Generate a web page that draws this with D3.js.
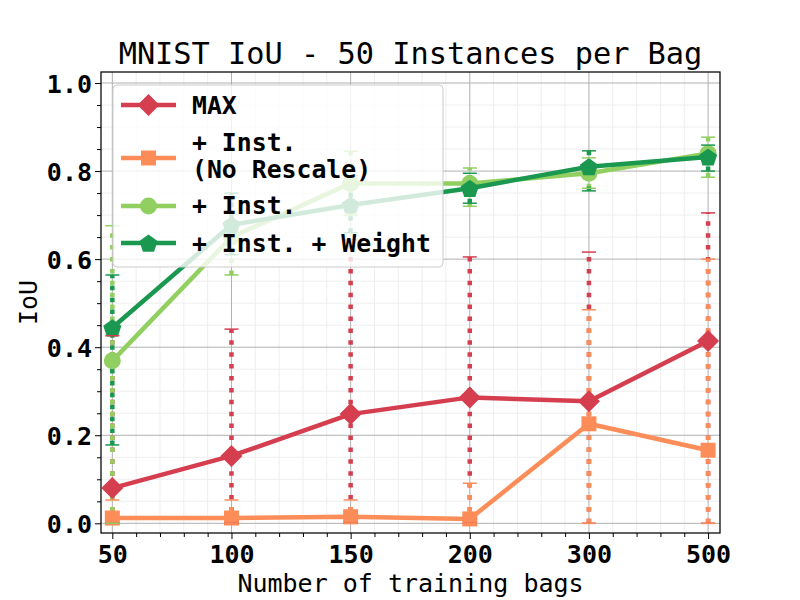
<!DOCTYPE html>
<html>
<head>
<meta charset="utf-8">
<script src="https://cdn.jsdelivr.net/npm/d3@7"></script>
<style>
  body { margin: 0; background: #fff; }
  text { font-family: 'DejaVu Sans Mono', monospace; }
</style>
</head>
<body>
<div id="chart"></div>
<script>
// training bag counts (evenly spaced categories)
let bags = ['50', '100', '150', '200', '300', '500']

// MAX
let maxMean = [0.080, 0.153, 0.248, 0.286, 0.277, 0.414]
let maxLow = [0, 0, 0, 0, 0, 0]
let maxHigh = [0.426, 0.441, 0.644, 0.605, 0.616, 0.705]

// + Inst. (No Rescale)
let noRescaleMean = [0.012, 0.012, 0.015, 0.010, 0.226, 0.166]
let noRescaleLow = [0, 0, 0, 0, 0, 0]
let noRescaleHigh = [0.053, 0.053, 0.053, 0.091, 0.485, 0.600]

// + Inst.
let instMean = [0.369, 0.650, 0.772, 0.772, 0.795, 0.840]
let instLow = [0, 0.564, 0.700, 0.720, 0.761, 0.786]
let instHigh = [0.676, 0.740, 0.845, 0.807, 0.830, 0.877]

// + Inst. + Weight
let weightMean = [0.444, 0.678, 0.723, 0.761, 0.810, 0.832]
let weightLow = [0.178, 0.610, 0.660, 0.727, 0.755, 0.800]
let weightHigh = [0.564, 0.750, 0.790, 0.795, 0.846, 0.859]

let yTicks = [0, 0.2, 0.4, 0.6, 0.8, 1.0]

let series = [
  { label: ['MAX'], color: '#d53e4f', marker: 'diamond', mean: maxMean, low: maxLow, high: maxHigh },
  { label: ['+ Inst.', '(No Rescale)'], color: '#fc8d59', marker: 'square', mean: noRescaleMean, low: noRescaleLow, high: noRescaleHigh },
  { label: ['+ Inst.'], color: '#91cf60', marker: 'circle', mean: instMean, low: instLow, high: instHigh },
  { label: ['+ Inst. + Weight'], color: '#1a9850', marker: 'pentagon', mean: weightMean, low: weightLow, high: weightHigh }
]

let margin = { top: 72, left: 101, right: 80, bottom: 67 }
let width = 800 - margin.left - margin.right
let height = 600 - margin.top - margin.bottom

let svg = d3
  .select('#chart')
  .append('svg')
  .attr('width', 800)
  .attr('height', 600)

let g = svg.append('g')
  .attr('transform', 'translate(' + margin.left + ',' + margin.top + ')')

let x = d3.scaleLinear().domain([-0.095, 5.1]).range([0, width])
let y = d3.scaleLinear().domain([-0.022, 1.025]).range([height, 0])

let xMinor = d3.range(0, 25.5).map(d => d * 0.2).filter(d => Math.abs(d - Math.round(d)) > 1e-6)
let yMinor = d3.range(0, 21).map(d => d * 0.05).filter(d => Math.abs(d / 0.2 - Math.round(d / 0.2)) > 1e-6)

// grid lines, minor first
g.append('g').selectAll('line').data(xMinor).enter().append('line')
  .attr('x1', d => x(d)).attr('x2', d => x(d)).attr('y1', 0).attr('y2', height)
  .attr('stroke', '#eeeeee').attr('stroke-width', 1)
g.append('g').selectAll('line').data(yMinor).enter().append('line')
  .attr('y1', d => y(d)).attr('y2', d => y(d)).attr('x1', 0).attr('x2', width)
  .attr('stroke', '#eeeeee').attr('stroke-width', 1)
g.append('g').selectAll('line').data(d3.range(bags.length)).enter().append('line')
  .attr('x1', d => x(d)).attr('x2', d => x(d)).attr('y1', 0).attr('y2', height)
  .attr('stroke', '#b0b0b0').attr('stroke-width', 1)
g.append('g').selectAll('line').data(yTicks).enter().append('line')
  .attr('y1', d => y(d)).attr('y2', d => y(d)).attr('x1', 0).attr('x2', width)
  .attr('stroke', '#b0b0b0').attr('stroke-width', 1)

function markerPath(type, s) {
  if (type === 'diamond') {
    return 'M0,' + (-s) + 'L' + s + ',0L0,' + s + 'L' + (-s) + ',0Z'
  } else if (type === 'square') {
    return 'M' + (-s) + ',' + (-s) + 'H' + s + 'V' + s + 'H' + (-s) + 'Z'
  } else if (type === 'circle') {
    return 'M' + s + ',0A' + s + ',' + s + ' 0 1,1 ' + (-s) + ',0A' + s + ',' + s + ' 0 1,1 ' + s + ',0Z'
  } else {
    let pts = d3.range(5).map(k => {
      let a = (-90 + k * 72) * Math.PI / 180
      return [s * Math.cos(a), s * Math.sin(a) + s * 0.1]
    })
    return 'M' + pts.map(p => p.join(',')).join('L') + 'Z'
  }
}
let markerSize = { diamond: 11, square: 7.5, circle: 8.5, pentagon: 9.5 }

let line = d3.line().x((d, i) => x(i)).y(d => y(d))

// dotted error bars
series.forEach(s => {
  g.append('g').selectAll('line').data(s.mean).enter().append('line')
    .attr('x1', (d, i) => x(i)).attr('x2', (d, i) => x(i))
    .attr('y1', (d, i) => y(s.low[i])).attr('y2', (d, i) => y(s.high[i]))
    .attr('stroke', s.color)
    .attr('stroke-width', 4.5)
    .attr('stroke-dasharray', '4.5,7.4')
})

// lines and markers
series.forEach(s => {
  g.append('path')
    .datum(s.mean)
    .attr('d', line)
    .attr('fill', 'none')
    .attr('stroke', s.color)
    .attr('stroke-width', 4.5)
    .attr('stroke-linejoin', 'round')
  g.append('g').selectAll('path').data(s.mean).enter().append('path')
    .attr('d', markerPath(s.marker, markerSize[s.marker]))
    .attr('transform', (d, i) => 'translate(' + x(i) + ',' + y(d) + ')')
    .attr('fill', s.color)
})

// caps
series.forEach(s => {
  let caps = []
  s.mean.forEach((d, i) => {
    caps.push([i, s.low[i]])
    caps.push([i, s.high[i]])
  })
  g.append('g').selectAll('line').data(caps).enter().append('line')
    .attr('x1', d => x(d[0]) - 7).attr('x2', d => x(d[0]) + 7)
    .attr('y1', d => y(d[1])).attr('y2', d => y(d[1]))
    .attr('stroke', s.color)
    .attr('stroke-width', 1.5)
})

// axes
let xAxis = g.append('g')
  .attr('transform', 'translate(0,' + height + ')')
  .call(d3.axisBottom(x).tickValues(d3.range(bags.length)).tickFormat(i => bags[i]).tickSize(6).tickPadding(7))
g.append('g')
  .attr('transform', 'translate(0,' + height + ')')
  .call(d3.axisBottom(x).tickValues(xMinor).tickFormat('').tickSize(4))
let yAxis = g.append('g')
  .call(d3.axisLeft(y).tickValues(yTicks).tickFormat(d3.format('.1f')).tickSize(6).tickPadding(3))
g.append('g')
  .call(d3.axisLeft(y).tickValues(yMinor).tickFormat('').tickSize(4))

g.selectAll('.domain').remove()
g.selectAll('.tick line').attr('stroke', '#000').attr('stroke-width', 1)
xAxis.selectAll('text')
  .attr('font-size', 25).attr('font-weight', 'bold').attr('fill', '#000')
  .attr('font-family', 'DejaVu Sans Mono').attr('dy', '0.68em')
yAxis.selectAll('text')
  .attr('font-size', 25).attr('font-weight', 'bold').attr('fill', '#000')
  .attr('font-family', 'DejaVu Sans Mono').attr('dy', '0.36em')

g.append('rect')
  .attr('width', width).attr('height', height)
  .attr('fill', 'none').attr('stroke', '#000').attr('stroke-width', 1.25)

// legend
let legend = g.append('g').attr('transform', 'translate(12,13)')
legend.append('rect')
  .attr('width', 330).attr('height', 182)
  .attr('rx', 4)
  .attr('fill', '#fff').attr('fill-opacity', 0.8)
  .attr('stroke', '#cccccc').attr('stroke-width', 1)

let handleY = [20, 73, 121, 158]
let textY = [[29], [66, 93], [129], [167]]
series.forEach((s, i) => {
  legend.append('line')
    .attr('x1', 8).attr('x2', 63)
    .attr('y1', handleY[i]).attr('y2', handleY[i])
    .attr('stroke', s.color).attr('stroke-width', 4.5)
  legend.append('path')
    .attr('d', markerPath(s.marker, markerSize[s.marker]))
    .attr('transform', 'translate(35.5,' + handleY[i] + ')')
    .attr('fill', s.color)
  s.label.forEach((t, j) => {
    legend.append('text')
      .attr('x', 79).attr('y', textY[i][j])
      .attr('font-size', 24.8).attr('font-weight', 'bold')
      .attr('xml:space', 'preserve')
      .text(t)
  })
})

// titles
svg.append('text')
  .attr('x', margin.left + width / 2).attr('y', 64)
  .attr('text-anchor', 'middle')
  .attr('font-size', 30.3)
  .text('MNIST IoU - 50 Instances per Bag')

svg.append('text')
  .attr('x', margin.left + width / 2).attr('y', 592)
  .attr('text-anchor', 'middle')
  .attr('font-size', 25)
  .text('Number of training bags')

svg.append('text')
  .attr('transform', 'translate(37,' + (margin.top + height / 2) + ') rotate(-90)')
  .attr('text-anchor', 'middle')
  .attr('font-size', 25)
  .text('IoU')
</script>
</body>
</html>
